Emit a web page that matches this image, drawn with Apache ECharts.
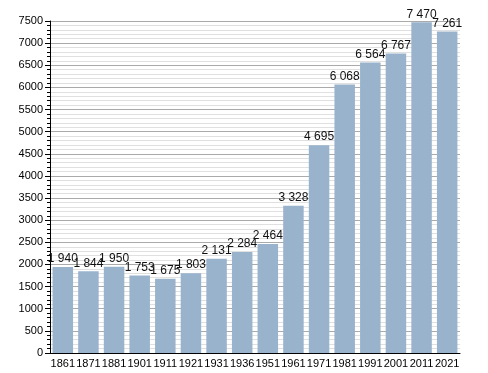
<!DOCTYPE html>
<html><head><meta charset="utf-8">
<script src="https://cdn.jsdelivr.net/npm/echarts@6/dist/echarts.min.js"></script>
<style>html,body{margin:0;padding:0;background:#fff}#c{width:488px;height:373px}</style>
</head><body><div id="c"></div>
<script>
const years = ['1861','1871','1881','1901','1911','1921','1931','1936','1951','1961','1971','1981','1991','2001','2011','2021'];
const population = [1940,1844,1950,1753,1675,1803,2131,2284,2464,3328,4695,6068,6564,6767,7470,7261];
const yTicks = [0,500,1000,1500,2000,2500,3000,3500,4000,4500,5000,5500,6000,6500,7000,7500];

const fmt = v => String(v).replace(/\B(?=(\d{3})+(?!\d))/g, ' ');
const chart = echarts.init(document.getElementById('c'), null, {renderer:'canvas'});
chart.setOption({
  animation:false,
  grid:{left:50,right:28,top:21,bottom:20,containLabel:false},
  xAxis:{type:'category',data:years,
    axisLine:{show:true,lineStyle:{color:'#000',width:1}},
    axisTick:{show:false},
    axisLabel:{color:'#000',fontFamily:'Liberation Sans, Arial, sans-serif',fontSize:11,margin:5,interval:0}},
  yAxis:{type:'value',min:yTicks[0],max:yTicks[yTicks.length-1],interval:500,
    axisLine:{show:true,lineStyle:{color:'#000',width:1}},
    axisTick:{show:true,length:5,lineStyle:{color:'#000'}},
    minorTick:{show:true,splitNumber:5,length:3,lineStyle:{color:'#000'}},
    splitLine:{show:true,lineStyle:{color:'#aaaaaa',width:1}},
    minorSplitLine:{show:true,lineStyle:{color:'#e0e0e0',width:1}},
    axisLabel:{color:'#000',fontFamily:'Liberation Sans, Arial, sans-serif',fontSize:11,margin:7,formatter:v=>String(v)}},
  series:[{type:'bar',data:population,barCategoryGap:'20%',
    itemStyle:{color:'#99b3cc'},
    label:{show:true,position:'top',distance:2,color:'#111',fontFamily:'Liberation Sans, Arial, sans-serif',fontSize:12,
      formatter:p=>fmt(p.value)}}]
});
</script></body></html>
